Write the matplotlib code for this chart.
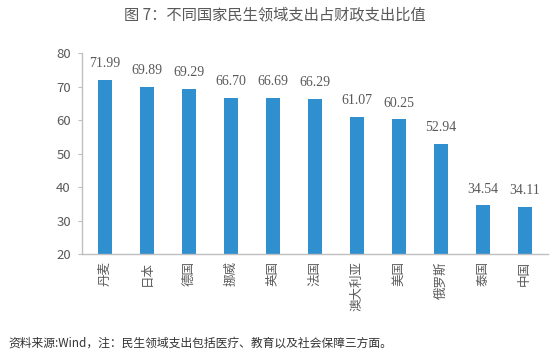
import matplotlib
matplotlib.use("Agg")
import matplotlib.pyplot as plt

plt.rcParams['font.family'] = ['Noto Sans CJK SC', 'DejaVu Sans']

countries = ["丹麦", "日本", "德国", "挪威", "英国", "法国", "澳大利亚", "美国", "俄罗斯", "泰国", "中国"]
values = [71.99, 69.89, 69.29, 66.70, 66.69, 66.29, 61.07, 60.25, 52.94, 34.54, 34.11]
yticks = [20, 30, 40, 50, 60, 70, 80]

bar_color = "#2F8FCF"
text_color = "#595959"
axis_color = "#BFBFBF"

fig = plt.figure(figsize=(5.5, 3.64), dpi=100)
ax = fig.add_axes([0.149, 0.302, 0.847, 0.552])

x = list(range(len(countries)))
ax.bar(x, values, width=0.34, color=bar_color, zorder=2)
ax.set_ylim(20, 80)
ax.set_xlim(-0.55, len(countries) - 0.45)
ax.set_yticks(yticks)
ax.set_yticklabels([str(t) for t in yticks], fontsize=9.5, color=text_color)
ax.set_xticks(x)
ax.set_xticklabels(countries, rotation=90, fontsize=9, color=text_color)
ax.tick_params(axis='x', length=0, pad=5)
ax.tick_params(axis='y', length=3, color=axis_color, pad=5)

for s in ['top', 'right']:
    ax.spines[s].set_visible(False)
for s in ['left', 'bottom']:
    ax.spines[s].set_color(axis_color)
    ax.spines[s].set_linewidth(1)

for xi, v in zip(x, values):
    ax.annotate(f"{v:.2f}", (xi, v), xytext=(0, 7), textcoords='offset points',
                ha='center', va='bottom', fontsize=10, color=text_color,
                family=['Liberation Serif', 'DejaVu Serif'])

fig.text(0.5, 0.958, "图 7：不同国家民生领域支出占财政支出比值", ha='center', va='center',
         fontsize=11, color=text_color)
fig.text(0.015, 0.058, "资料来源:Wind，注：民生领域支出包括医疗、教育以及社会保障三方面。",
         ha='left', va='center', fontsize=8.5, color="#333333")

fig.savefig("out.png", dpi=100, facecolor='white')
